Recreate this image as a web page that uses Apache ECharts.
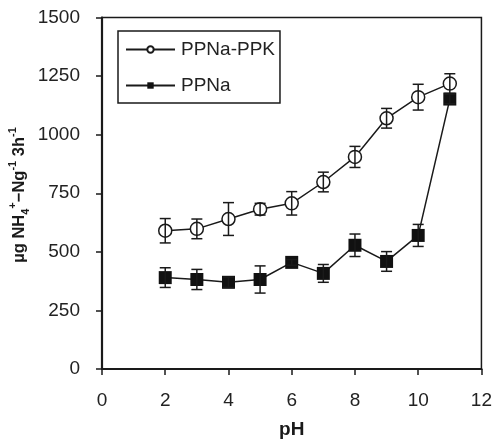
<!DOCTYPE html>
<html>
<head>
<meta charset="utf-8">
<script src="https://cdn.jsdelivr.net/npm/echarts@6/dist/echarts.min.js"></script>
<style>
  html, body { margin: 0; padding: 0; background: #fff; }
  #chart { width: 495px; height: 444px; }
</style>
</head>
<body>
<div id="chart"></div>
<script>
// pH values and mean ammonium release (µg NH4+-N g-1 3h-1) with error bars
const ph = [2, 3, 4, 5, 6, 7, 8, 9, 10, 11];
const ppkMean = [590, 598, 640, 682, 707, 798, 905, 1070, 1160, 1218];
const ppkErr  = [52, 42, 70, 25, 50, 42, 45, 42, 55, 42];
const ppnaMean = [390, 382, 370, 382, 455, 408, 528, 459, 570, 1152];
const ppnaErr  = [42, 43, 22, 58, 12, 38, 48, 42, 47, 20];
const xTicks = [0, 2, 4, 6, 8, 10, 12];
const yTicks = [0, 250, 500, 750, 1000, 1250, 1500];

const FONT = '"Liberation Sans", Arial, sans-serif';
const INK = '#1a1a1a';

function pairs(xs, ys) { return xs.map((x, i) => [x, ys[i]]); }
function errData(xs, m, e) { return xs.map((x, i) => [x, m[i] - e[i], m[i] + e[i]]); }

function errorBars(data) {
  return {
    type: 'custom',
    data: data,
    z: 5,
    silent: true,
    renderItem: function (params, api) {
      const x = api.value(0);
      const lo = api.coord([x, api.value(1)]);
      const hi = api.coord([x, api.value(2)]);
      const w = 5.5;
      const style = { stroke: INK, lineWidth: 1.5, fill: null };
      return {
        type: 'group',
        children: [
          { type: 'line', shape: { x1: lo[0], y1: lo[1], x2: hi[0], y2: hi[1] }, style: style },
          { type: 'line', shape: { x1: lo[0] - w, y1: lo[1], x2: lo[0] + w, y2: lo[1] }, style: style },
          { type: 'line', shape: { x1: hi[0] - w, y1: hi[1], x2: hi[0] + w, y2: hi[1] }, style: style }
        ]
      };
    }
  };
}

const chart = echarts.init(document.getElementById('chart'), null, { renderer: 'canvas' });
chart.setOption({
  animation: false,
  backgroundColor: '#fff',
  textStyle: { fontFamily: FONT },
  grid: {
    left: 102, right: 12, top: 17.5, bottom: 67,
    show: true, borderColor: INK, borderWidth: 1.5, backgroundColor: 'transparent'
  },
  legend: {
    left: 118, top: 31,
    orient: 'vertical',
    data: ['PPNa-PPK', 'PPNa'],
    borderColor: INK, borderWidth: 1.5,
    padding: [9, 5, 8, 7],
    itemWidth: 49, itemHeight: 8, itemGap: 17,
    textStyle: { fontFamily: FONT, fontSize: 19, color: '#222', padding: [0, 0, 0, 1] }
  },
  xAxis: {
    type: 'value', min: 0, max: 12, interval: 2,
    name: 'pH', nameLocation: 'middle', nameGap: 51,
    nameTextStyle: { fontFamily: FONT, fontSize: 19, fontWeight: 'bold', color: INK },
    axisLine: { lineStyle: { color: INK, width: 2.2 } },
    axisTick: { inside: false, length: 6, lineStyle: { color: INK, width: 1.5 } },
    axisLabel: { margin: 22, fontSize: 19, color: '#222', fontFamily: FONT,
      formatter: v => xTicks.includes(v) ? String(v) : '' },
    splitLine: { show: false }
  },
  yAxis: {
    type: 'value', min: 0, max: 1500, interval: 250,
    axisLine: { show: true, lineStyle: { color: INK, width: 2.2 } },
    axisTick: { show: true, inside: false, length: 6, lineStyle: { color: INK, width: 1.5 } },
    axisLabel: { margin: 22, fontSize: 19, color: '#222', fontFamily: FONT,
      formatter: v => yTicks.includes(v) ? String(v) : '' },
    splitLine: { show: false }
  },
  graphic: [{
    type: 'text',
    x: 19, y: 195,
    rotation: Math.PI / 2,
    style: {
      text: '{m|µg NH}{s|4}{p|+}{m|−Ng}{p|-1}{m| 3h}{p|-1}',
      align: 'center', verticalAlign: 'middle',
      fill: INK,
      rich: {
        m: { fontFamily: FONT, fontSize: 16.5, fontWeight: 'bold', fill: INK, lineHeight: 24, verticalAlign: 'middle' },
        s: { fontFamily: FONT, fontSize: 11, fontWeight: 'bold', fill: INK, lineHeight: 24, verticalAlign: 'bottom' },
        p: { fontFamily: FONT, fontSize: 11, fontWeight: 'bold', fill: INK, lineHeight: 24, verticalAlign: 'top' }
      }
    }
  }],
  series: [
    {
      name: 'PPNa-PPK', type: 'line', data: pairs(ph, ppkMean),
      symbol: 'circle', symbolSize: 13, z: 3,
      lineStyle: { color: INK, width: 1.5 },
      itemStyle: { color: '#fff', borderColor: INK, borderWidth: 1.5 }
    },
    {
      name: 'PPNa', type: 'line', data: pairs(ph, ppnaMean),
      symbol: 'rect', symbolSize: 13, z: 3,
      lineStyle: { color: INK, width: 1.5 },
      itemStyle: { color: '#111', borderColor: '#111', borderWidth: 0 }
    },
    errorBars(errData(ph, ppkMean, ppkErr)),
    errorBars(errData(ph, ppnaMean, ppnaErr))
  ]
});
</script>
</body>
</html>
